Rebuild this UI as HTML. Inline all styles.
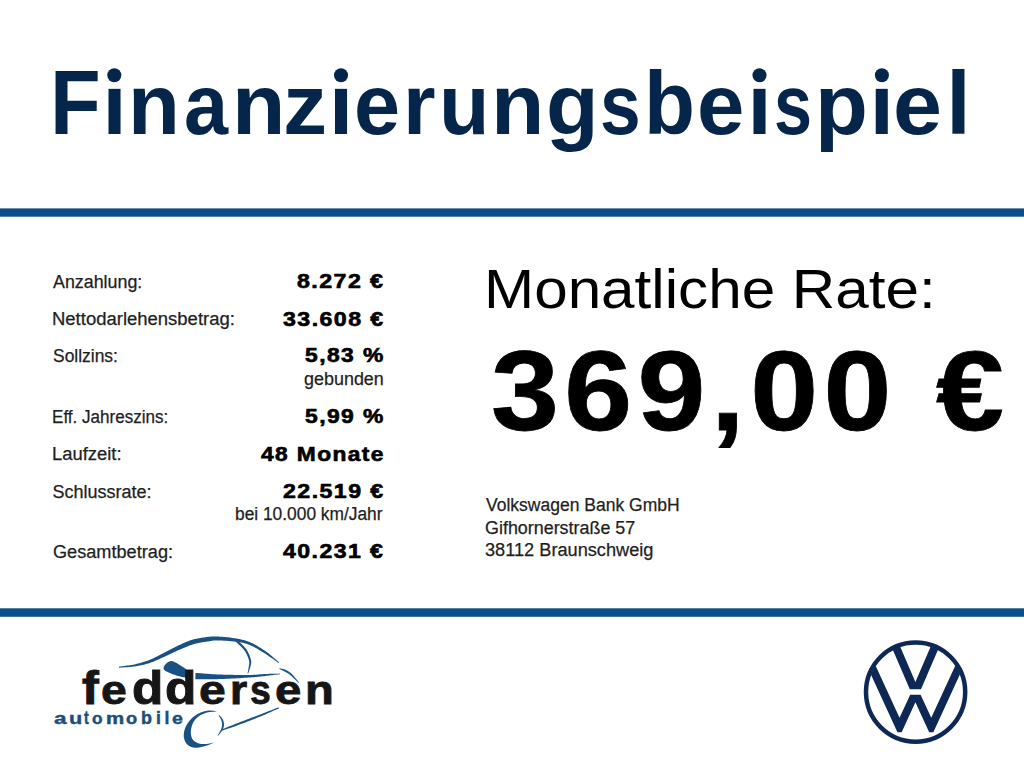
<!DOCTYPE html>
<html><head><meta charset="utf-8"><style>
html,body{margin:0;padding:0;background:#fff;width:1024px;height:768px;overflow:hidden;position:relative}
.t{position:absolute;white-space:nowrap;font-family:"Liberation Sans",sans-serif}
svg{position:absolute;left:0;top:0}
</style></head><body>
<svg width="1024" height="768" viewBox="0 0 1024 768">
<defs><clipPath id="vwc"><circle cx="915.6" cy="692.1" r="48"/></clipPath></defs>
<rect x="0" y="208.4" width="1024" height="8.3" fill="#0b4f88"/>
<rect x="0" y="608.3" width="1024" height="8.5" fill="#0b4f88"/>
<circle cx="915.6" cy="692.1" r="49.6" fill="none" stroke="#0d2855" stroke-width="4.5"/>
<g clip-path="url(#vwc)" fill="#0d2855">
<polygon points="871.40,600.00 909.80,689.30 921.00,689.30 959.40,600.00 950.70,600.00 915.40,682.09 880.10,600.00"/>
<polygon points="836.64,600.00 897.45,732.20 901.65,732.20 915.40,702.31 929.15,732.20 933.35,732.20 994.16,600.00 985.46,600.00 931.25,717.85 920.60,694.70 910.20,694.70 899.55,717.85 845.34,600.00"/>
</g>
<g fill="#1a5184"><path d="M119.05,667.70 L119.80,667.64 L120.75,667.58 L121.86,667.51 L123.11,667.43 L124.46,667.35 L125.90,667.25 L127.40,667.14 L128.91,667.02 L130.43,666.89 L131.91,666.74 L133.34,666.57 L134.68,666.38 L135.95,666.19 L137.21,665.98 L138.47,665.76 L139.72,665.53 L140.97,665.28 L142.22,665.02 L143.46,664.74 L144.70,664.44 L145.95,664.12 L147.20,663.78 L148.45,663.41 L149.70,663.01 L150.97,662.58 L152.23,662.12 L153.48,661.63 L154.73,661.12 L155.98,660.59 L157.22,660.04 L158.46,659.48 L159.69,658.92 L160.92,658.35 L162.14,657.78 L163.37,657.22 L164.60,656.67 L165.84,656.11 L167.09,655.53 L168.33,654.94 L169.58,654.34 L170.82,653.75 L172.06,653.15 L173.29,652.56 L174.52,651.97 L175.74,651.40 L176.96,650.83 L178.17,650.29 L179.39,649.76 L180.61,649.23 L181.84,648.70 L183.06,648.18 L184.27,647.66 L185.48,647.16 L186.68,646.67 L187.88,646.19 L189.07,645.73 L190.25,645.30 L191.43,644.89 L192.60,644.51 L193.76,644.16 L194.94,643.83 L196.15,643.53 L197.40,643.25 L198.66,642.99 L199.93,642.75 L201.20,642.52 L202.45,642.31 L203.68,642.11 L204.87,641.93 L206.01,641.75 L207.10,641.59 L208.12,641.43 L209.04,641.28 L209.84,641.14 L210.54,641.02 L211.17,640.91 L211.74,640.82 L212.29,640.74 L212.83,640.67 L213.40,640.62 L214.03,640.57 L214.73,640.54 L215.54,640.51 L216.47,640.50 L217.51,640.50 L218.65,640.51 L219.85,640.52 L221.11,640.55 L222.42,640.59 L223.77,640.65 L225.14,640.71 L226.53,640.80 L227.91,640.89 L229.29,641.01 L230.64,641.14 L231.97,641.28 L233.30,641.44 L234.63,641.60 L235.96,641.76 L237.29,641.93 L238.62,642.11 L239.95,642.31 L241.27,642.54 L242.59,642.80 L243.90,643.10 L245.21,643.44 L246.52,643.82 L247.82,644.26 L249.13,644.76 L250.46,645.33 L251.80,645.94 L253.14,646.61 L254.48,647.31 L255.83,648.04 L257.18,648.81 L258.52,649.59 L259.85,650.38 L261.17,651.18 L262.48,651.98 L263.77,652.76 L265.08,653.58 L266.46,654.47 L267.87,655.41 L269.30,656.39 L270.73,657.39 L272.12,658.37 L273.46,659.33 L274.73,660.24 L275.89,661.07 L276.92,661.82 L277.81,662.46 L278.53,662.96 L279.07,662.24 L278.41,661.69 L277.58,660.98 L276.62,660.15 L275.53,659.22 L274.35,658.20 L273.09,657.13 L271.77,656.02 L270.42,654.91 L269.04,653.81 L267.67,652.75 L266.33,651.75 L265.03,650.84 L263.75,649.98 L262.46,649.13 L261.14,648.28 L259.80,647.45 L258.45,646.63 L257.08,645.83 L255.71,645.06 L254.32,644.31 L252.93,643.60 L251.55,642.94 L250.16,642.31 L248.78,641.74 L247.40,641.22 L246.01,640.75 L244.63,640.34 L243.25,639.96 L241.88,639.63 L240.50,639.33 L239.14,639.05 L237.78,638.80 L236.43,638.57 L235.09,638.34 L233.76,638.13 L232.43,637.92 L231.07,637.71 L229.67,637.52 L228.25,637.35 L226.83,637.20 L225.41,637.06 L224.00,636.94 L222.63,636.84 L221.29,636.74 L220.00,636.67 L218.77,636.60 L217.61,636.54 L216.53,636.50 L215.56,636.47 L214.70,636.44 L213.92,636.43 L213.20,636.44 L212.53,636.45 L211.89,636.48 L211.25,636.53 L210.60,636.59 L209.92,636.66 L209.19,636.75 L208.39,636.86 L207.48,636.97 L206.47,637.10 L205.38,637.24 L204.22,637.39 L203.00,637.55 L201.74,637.73 L200.44,637.93 L199.11,638.15 L197.77,638.39 L196.42,638.65 L195.08,638.95 L193.74,639.28 L192.44,639.64 L191.16,640.04 L189.90,640.48 L188.64,640.94 L187.39,641.43 L186.15,641.94 L184.92,642.47 L183.69,643.02 L182.47,643.57 L181.25,644.14 L180.04,644.70 L178.83,645.27 L177.61,645.84 L176.38,646.42 L175.15,647.03 L173.92,647.65 L172.69,648.28 L171.47,648.92 L170.24,649.56 L169.03,650.21 L167.82,650.85 L166.61,651.48 L165.40,652.11 L164.21,652.73 L163.00,653.33 L161.79,653.94 L160.58,654.55 L159.37,655.17 L158.17,655.78 L156.97,656.39 L155.78,656.99 L154.59,657.57 L153.41,658.14 L152.23,658.69 L151.05,659.22 L149.87,659.72 L148.70,660.19 L147.51,660.63 L146.33,661.06 L145.15,661.47 L143.97,661.85 L142.79,662.23 L141.60,662.58 L140.40,662.92 L139.20,663.24 L138.00,663.55 L136.78,663.85 L135.55,664.14 L134.32,664.42 L133.04,664.68 L131.66,664.93 L130.21,665.18 L128.72,665.41 L127.23,665.62 L125.76,665.82 L124.34,666.01 L122.99,666.18 L121.75,666.34 L120.64,666.48 L119.70,666.60 L118.95,666.70Z"/><path d="M234.24,640.30 L234.75,640.79 L235.42,641.40 L236.20,642.10 L237.07,642.89 L238.01,643.74 L238.99,644.64 L239.98,645.58 L240.96,646.53 L241.91,647.48 L242.78,648.42 L243.56,649.31 L244.21,650.15 L244.79,650.98 L245.35,651.85 L245.87,652.74 L246.36,653.65 L246.82,654.56 L247.24,655.48 L247.63,656.38 L247.98,657.26 L248.30,658.12 L248.58,658.94 L248.82,659.72 L249.03,660.44 L249.18,661.08 L249.27,661.66 L249.32,662.21 L249.33,662.73 L249.30,663.23 L249.25,663.72 L249.17,664.21 L249.08,664.70 L248.99,665.21 L248.88,665.74 L248.79,666.29 L248.71,666.85 L248.64,667.42 L248.56,668.02 L248.45,668.64 L248.34,669.27 L248.22,669.90 L248.10,670.53 L247.98,671.13 L247.86,671.70 L247.75,672.23 L247.66,672.70 L247.57,673.10 L247.51,673.42 L248.09,673.58 L248.20,673.28 L248.34,672.90 L248.51,672.45 L248.71,671.95 L248.92,671.40 L249.14,670.82 L249.36,670.21 L249.58,669.59 L249.78,668.96 L249.98,668.34 L250.15,667.72 L250.29,667.15 L250.41,666.62 L250.55,666.12 L250.69,665.61 L250.83,665.10 L250.96,664.56 L251.08,664.01 L251.17,663.42 L251.23,662.81 L251.25,662.15 L251.21,661.46 L251.12,660.73 L250.97,659.96 L250.77,659.17 L250.53,658.33 L250.25,657.45 L249.94,656.53 L249.58,655.59 L249.19,654.62 L248.75,653.65 L248.28,652.67 L247.77,651.69 L247.21,650.72 L246.62,649.78 L245.99,648.85 L245.26,647.91 L244.42,646.94 L243.50,645.95 L242.52,644.96 L241.51,643.98 L240.50,643.02 L239.50,642.11 L238.55,641.25 L237.67,640.46 L236.90,639.76 L236.25,639.18 L235.76,638.70Z"/><path d="M195.29,679.30 L196.43,679.29 L197.82,679.29 L199.45,679.29 L201.28,679.29 L203.28,679.29 L205.42,679.29 L207.66,679.28 L209.97,679.27 L212.32,679.25 L214.68,679.21 L217.01,679.16 L219.29,679.10 L221.60,679.02 L224.03,678.93 L226.56,678.82 L229.17,678.70 L231.81,678.57 L234.45,678.44 L237.07,678.30 L239.63,678.16 L242.10,678.01 L244.44,677.87 L246.64,677.73 L248.65,677.60 L250.48,677.47 L252.17,677.34 L253.72,677.21 L255.17,677.08 L256.52,676.95 L257.80,676.81 L259.03,676.68 L260.22,676.55 L261.41,676.41 L262.60,676.27 L263.81,676.14 L265.08,676.00 L266.42,675.85 L267.82,675.69 L269.26,675.52 L270.72,675.35 L272.16,675.17 L273.57,675.00 L274.92,674.83 L276.20,674.67 L277.37,674.53 L278.41,674.40 L279.30,674.29 L280.02,674.20 L279.98,673.60 L279.26,673.62 L278.36,673.64 L277.31,673.66 L276.13,673.68 L274.84,673.71 L273.48,673.74 L272.06,673.77 L270.60,673.81 L269.14,673.85 L267.69,673.90 L266.28,673.95 L264.92,674.00 L263.63,674.07 L262.40,674.15 L261.19,674.25 L260.00,674.35 L258.81,674.46 L257.59,674.56 L256.32,674.66 L254.98,674.76 L253.56,674.84 L252.02,674.92 L250.36,674.97 L248.55,675.00 L246.55,675.02 L244.36,675.02 L242.02,675.01 L239.55,674.99 L237.00,674.95 L234.39,674.91 L231.75,674.86 L229.12,674.80 L226.53,674.74 L224.01,674.66 L221.59,674.58 L219.31,674.50 L217.07,674.40 L214.77,674.28 L212.45,674.14 L210.13,673.99 L207.84,673.83 L205.62,673.67 L203.50,673.51 L201.51,673.36 L199.69,673.22 L198.06,673.09 L196.65,672.98 L195.51,672.90Z"/><path d="M279.37,668.98 L279.63,669.09 L279.95,669.23 L280.33,669.39 L280.74,669.57 L281.19,669.77 L281.67,669.97 L282.17,670.19 L282.67,670.42 L283.17,670.66 L283.66,670.91 L284.14,671.15 L284.60,671.41 L285.05,671.66 L285.51,671.92 L285.97,672.18 L286.43,672.44 L286.88,672.71 L287.35,672.99 L287.82,673.29 L288.30,673.61 L288.80,673.95 L289.31,674.33 L289.85,674.73 L290.41,675.18 L291.02,675.69 L291.71,676.29 L292.45,676.97 L293.24,677.69 L294.04,678.44 L294.84,679.20 L295.62,679.95 L296.36,680.67 L297.05,681.33 L297.66,681.92 L298.18,682.42 L298.58,682.81 L299.02,682.39 L298.66,681.97 L298.20,681.42 L297.67,680.76 L297.06,680.02 L296.41,679.22 L295.71,678.38 L295.00,677.53 L294.28,676.69 L293.56,675.87 L292.87,675.11 L292.20,674.42 L291.59,673.82 L291.02,673.31 L290.47,672.84 L289.93,672.42 L289.40,672.03 L288.88,671.67 L288.37,671.35 L287.86,671.05 L287.37,670.77 L286.87,670.51 L286.39,670.26 L285.90,670.03 L285.40,669.79 L284.87,669.57 L284.32,669.36 L283.75,669.18 L283.18,669.01 L282.62,668.87 L282.08,668.74 L281.56,668.63 L281.07,668.52 L280.63,668.44 L280.23,668.36 L279.90,668.29 L279.63,668.22Z"/><path d="M221.67,730.67 L222.30,730.47 L223.03,730.24 L223.86,729.97 L224.80,729.68 L225.83,729.36 L226.95,729.00 L228.15,728.61 L229.44,728.19 L230.81,727.73 L232.26,727.24 L233.77,726.71 L235.35,726.14 L237.06,725.51 L238.94,724.81 L240.96,724.06 L243.09,723.26 L245.29,722.43 L247.55,721.57 L249.82,720.70 L252.08,719.82 L254.29,718.96 L256.43,718.11 L258.47,717.30 L260.37,716.53 L262.21,715.77 L264.06,714.98 L265.92,714.17 L267.75,713.36 L269.53,712.57 L271.25,711.79 L272.88,711.05 L274.41,710.35 L275.80,709.71 L277.04,709.14 L278.11,708.66 L278.99,708.26 L278.61,707.34 L277.71,707.69 L276.61,708.11 L275.33,708.61 L273.90,709.16 L272.34,709.76 L270.67,710.41 L268.92,711.09 L267.10,711.79 L265.23,712.51 L263.35,713.24 L261.48,713.96 L259.63,714.67 L257.72,715.40 L255.68,716.19 L253.54,717.01 L251.32,717.85 L249.06,718.71 L246.79,719.58 L244.54,720.44 L242.34,721.29 L240.22,722.10 L238.21,722.88 L236.34,723.60 L234.65,724.26 L233.09,724.88 L231.60,725.48 L230.19,726.05 L228.85,726.59 L227.60,727.11 L226.43,727.60 L225.35,728.05 L224.35,728.47 L223.45,728.84 L222.64,729.18 L221.93,729.48 L221.33,729.73Z"/><path d="M218.67,715.52 L218.83,715.81 L219.05,716.18 L219.31,716.59 L219.60,717.06 L219.90,717.56 L220.22,718.08 L220.53,718.63 L220.82,719.18 L221.09,719.74 L221.32,720.27 L221.50,720.78 L221.64,721.25 L221.74,721.75 L221.84,722.26 L221.91,722.79 L221.97,723.32 L222.01,723.86 L222.03,724.40 L222.03,724.95 L222.00,725.50 L221.95,726.06 L221.88,726.61 L221.77,727.17 L221.64,727.72 L221.47,728.30 L221.22,728.94 L220.90,729.64 L220.55,730.37 L220.16,731.11 L219.75,731.86 L219.34,732.58 L218.94,733.27 L218.57,733.90 L218.23,734.47 L217.96,734.95 L217.75,735.34 L218.25,735.66 L218.51,735.32 L218.85,734.89 L219.26,734.38 L219.73,733.81 L220.23,733.18 L220.75,732.52 L221.28,731.82 L221.79,731.11 L222.27,730.39 L222.70,729.67 L223.07,728.96 L223.36,728.28 L223.56,727.62 L223.72,726.96 L223.84,726.31 L223.92,725.66 L223.96,725.01 L223.97,724.37 L223.94,723.74 L223.88,723.12 L223.79,722.50 L223.67,721.91 L223.53,721.33 L223.36,720.75 L223.14,720.15 L222.84,719.55 L222.49,718.96 L222.10,718.40 L221.70,717.86 L221.28,717.34 L220.87,716.85 L220.48,716.40 L220.11,715.99 L219.79,715.63 L219.53,715.33 L219.33,715.08Z"/><path d="M163.5,668.2 C163.8,665.5 168,661 171.6,661.1 C175,661.5 180,665.5 186,669 L186,677.8 C181,677 173,675 167.7,672.1 C165,670.8 163.4,669.6 163.5,668.2Z"/><path d="M217,711.5 C203,707 186,718 183.8,733.6 C182.8,743 190,749.5 199,747.5 C205,746.5 211,744.5 215,742 C207,745 198,745 193.5,740.5 C189.8,736.5 190,728 193.8,721.5 C198.5,714.5 206,711.5 217,711.5Z"/></g>
<g fill="#06254a" id="idots"><circle cx="114.3" cy="75.3" r="7"/><circle cx="341" cy="75.3" r="7"/><circle cx="759.5" cy="75.3" r="7"/><circle cx="881.9" cy="75.3" r="7"/></g>
</svg>
<div class=t style="left:50.36px;top:60.2px;font-size:88px;line-height:88px;font-weight:700;color:#06254a;transform:scale(0.9434,1.04);transform-origin:0 74.80px;">F</div>
<div class=t style="left:102.2px;top:60.2px;font-size:88px;line-height:88px;font-weight:700;color:#06254a;transform:scale(1.0,0.96);transform-origin:0 74.80px;">ı</div>
<div class=t style="left:127.65px;top:60.2px;font-size:88px;line-height:88px;font-weight:700;color:#06254a;transform:scale(0.9647,0.96);transform-origin:0 74.80px;">n</div>
<div class=t style="left:183.54px;top:60.2px;font-size:88px;line-height:88px;font-weight:700;color:#06254a;transform:scale(0.9003,0.96);transform-origin:0 74.80px;">a</div>
<div class=t style="left:231.79px;top:60.2px;font-size:88px;line-height:88px;font-weight:700;color:#06254a;transform:scale(0.9929,0.96);transform-origin:0 74.80px;">n</div>
<div class=t style="left:283.49px;top:60.2px;font-size:88px;line-height:88px;font-weight:700;color:#06254a;transform:scale(1.0033,0.96);transform-origin:0 74.80px;">z</div>
<div class=t style="left:328.7px;top:60.2px;font-size:88px;line-height:88px;font-weight:700;color:#06254a;transform:scale(1.0,0.96);transform-origin:0 74.80px;">ı</div>
<div class=t style="left:354.0px;top:60.2px;font-size:88px;line-height:88px;font-weight:700;color:#06254a;transform:scale(0.9416,0.96);transform-origin:0 74.80px;">e</div>
<div class=t style="left:403.43px;top:60.2px;font-size:88px;line-height:88px;font-weight:700;color:#06254a;transform:scale(0.9512,0.96);transform-origin:0 74.80px;">r</div>
<div class=t style="left:438.84px;top:60.2px;font-size:88px;line-height:88px;font-weight:700;color:#06254a;transform:scale(0.9388,0.96);transform-origin:0 74.80px;">u</div>
<div class=t style="left:491.29px;top:60.2px;font-size:88px;line-height:88px;font-weight:700;color:#06254a;transform:scale(0.9929,0.96);transform-origin:0 74.80px;">n</div>
<div class=t style="left:546.25px;top:60.2px;font-size:88px;line-height:88px;font-weight:700;color:#06254a;transform:scale(0.9785,0.96);transform-origin:0 74.80px;">g</div>
<div class=t style="left:599.9px;top:60.2px;font-size:88px;line-height:88px;font-weight:700;color:#06254a;transform:scale(0.8308,0.96);transform-origin:0 74.80px;">s</div>
<div class=t style="left:643.94px;top:60.2px;font-size:88px;line-height:88px;font-weight:700;color:#06254a;transform:scale(0.9487,1.015);transform-origin:0 74.80px;">b</div>
<div class=t style="left:696.61px;top:60.2px;font-size:88px;line-height:88px;font-weight:700;color:#06254a;transform:scale(0.9676,0.96);transform-origin:0 74.80px;">e</div>
<div class=t style="left:747.25px;top:60.2px;font-size:88px;line-height:88px;font-weight:700;color:#06254a;transform:scale(1.0,0.96);transform-origin:0 74.80px;">ı</div>
<div class=t style="left:774.17px;top:60.2px;font-size:88px;line-height:88px;font-weight:700;color:#06254a;transform:scale(0.7763,0.96);transform-origin:0 74.80px;">s</div>
<div class=t style="left:814.64px;top:60.2px;font-size:88px;line-height:88px;font-weight:700;color:#06254a;transform:scale(0.9848,0.96);transform-origin:0 74.80px;">p</div>
<div class=t style="left:869.6px;top:60.2px;font-size:88px;line-height:88px;font-weight:700;color:#06254a;transform:scale(1.0,0.96);transform-origin:0 74.80px;">ı</div>
<div class=t style="left:893.4px;top:60.2px;font-size:88px;line-height:88px;font-weight:700;color:#06254a;transform:scale(1.0006,0.96);transform-origin:0 74.80px;">e</div>
<div class=t style="left:946.21px;top:60.2px;font-size:88px;line-height:88px;font-weight:700;color:#06254a;transform:scale(1.0,1.015);transform-origin:0 74.80px;">l</div>
<div class=t style="left:53.3px;top:272.7px;font-size:18px;line-height:18px;font-weight:400;color:#1e1e1e;-webkit-text-stroke:0.25px #1e1e1e;transform:scale(0.991,1);transform-origin:0 15.30px;">Anzahlung:</div>
<div class=t style="left:52.27px;top:310.2px;font-size:18px;line-height:18px;font-weight:400;color:#1e1e1e;-webkit-text-stroke:0.25px #1e1e1e;transform:scale(1.0267,1);transform-origin:0 15.30px;">Nettodarlehensbetrag:</div>
<div class=t style="left:52.57px;top:346.7px;font-size:18px;line-height:18px;font-weight:400;color:#1e1e1e;-webkit-text-stroke:0.25px #1e1e1e;transform:scale(0.9683,1);transform-origin:0 15.30px;">Sollzins:</div>
<div class=t style="left:52.12px;top:407.7px;font-size:18px;line-height:18px;font-weight:400;color:#1e1e1e;-webkit-text-stroke:0.25px #1e1e1e;transform:scale(0.9475,1);transform-origin:0 15.30px;">Eff. Jahreszins:</div>
<div class=t style="left:52.02px;top:444.7px;font-size:18px;line-height:18px;font-weight:400;color:#1e1e1e;-webkit-text-stroke:0.25px #1e1e1e;transform:scale(1.0222,1);transform-origin:0 15.30px;">Laufzeit:</div>
<div class=t style="left:52.55px;top:482.7px;font-size:18px;line-height:18px;font-weight:400;color:#1e1e1e;-webkit-text-stroke:0.25px #1e1e1e;">Schlussrate:</div>
<div class=t style="left:52.54px;top:542.7px;font-size:18px;line-height:18px;font-weight:400;color:#1e1e1e;-webkit-text-stroke:0.25px #1e1e1e;transform:scale(1.0081,1);transform-origin:0 15.30px;">Gesamtbetrag:</div>
<div class=t style="left:297.05px;top:271.89px;font-size:19.3px;line-height:19.3px;font-weight:700;color:#000;letter-spacing:1.2px;-webkit-text-stroke:0.6px #000;transform:scale(1.2021,1);transform-origin:0 16.41px;">8.272 €</div>
<div class=t style="left:282.7px;top:309.6px;font-size:19.3px;line-height:19.3px;font-weight:700;color:#000;letter-spacing:1.2px;-webkit-text-stroke:0.6px #000;transform:scale(1.2012,1);transform-origin:0 16.41px;">33.608 €</div>
<div class=t style="left:305.2px;top:346.39px;font-size:19.3px;line-height:19.3px;font-weight:700;color:#000;letter-spacing:1.2px;-webkit-text-stroke:0.6px #000;transform:scale(1.1855,1);transform-origin:0 16.41px;">5,83 %</div>
<div class=t style="left:303.58px;top:369.7px;font-size:18px;line-height:18px;font-weight:400;color:#1e1e1e;-webkit-text-stroke:0.25px #1e1e1e;transform:scale(0.9965,1);transform-origin:0 15.30px;">gebunden</div>
<div class=t style="left:304.9px;top:406.79px;font-size:19.3px;line-height:19.3px;font-weight:700;color:#000;letter-spacing:1.2px;-webkit-text-stroke:0.6px #000;transform:scale(1.1855,1);transform-origin:0 16.41px;">5,99 %</div>
<div class=t style="left:261.0px;top:444.6px;font-size:19.3px;line-height:19.3px;font-weight:700;color:#000;letter-spacing:1.2px;-webkit-text-stroke:0.6px #000;transform:scale(1.1787,1);transform-origin:0 16.41px;">48 Monate</div>
<div class=t style="left:282.7px;top:482.1px;font-size:19.3px;line-height:19.3px;font-weight:700;color:#000;letter-spacing:1.2px;-webkit-text-stroke:0.6px #000;transform:scale(1.2012,1);transform-origin:0 16.41px;">22.519 €</div>
<div class=t style="left:234.54px;top:504.7px;font-size:18px;line-height:18px;font-weight:400;color:#1e1e1e;-webkit-text-stroke:0.25px #1e1e1e;transform:scale(0.9638,1);transform-origin:0 15.30px;">bei 10.000 km/Jahr</div>
<div class=t style="left:283.0px;top:541.89px;font-size:19.3px;line-height:19.3px;font-weight:700;color:#000;letter-spacing:1.2px;-webkit-text-stroke:0.6px #000;transform:scale(1.1976,1);transform-origin:0 16.41px;">40.231 €</div>
<div class=t style="left:483.58px;top:261.93px;font-size:55.5px;line-height:55.5px;font-weight:400;color:#000;transform:scale(1.0847,1);transform-origin:0 47.17px;">Monatliche Rate:</div>
<div class=t style="left:490.56px;top:333.7px;font-size:114px;line-height:114px;font-weight:700;color:#000;letter-spacing:5px;-webkit-text-stroke:0.8px #000;transform:scale(1.0714,1);transform-origin:0 96.90px;">369,00 €</div>
<div class=t style="left:485.7px;top:496.02px;font-size:18.8px;line-height:18.8px;font-weight:400;color:#1e1e1e;-webkit-text-stroke:0.25px #1e1e1e;transform:scale(0.9319,1);transform-origin:0 15.98px;">Volkswagen Bank GmbH</div>
<div class=t style="left:484.75px;top:518.52px;font-size:18.8px;line-height:18.8px;font-weight:400;color:#1e1e1e;-webkit-text-stroke:0.25px #1e1e1e;transform:scale(0.9532,1);transform-origin:0 15.98px;">Gifhornerstraße 57</div>
<div class=t style="left:484.73px;top:541.02px;font-size:18.8px;line-height:18.8px;font-weight:400;color:#1e1e1e;-webkit-text-stroke:0.25px #1e1e1e;transform:scale(0.968,1);transform-origin:0 15.98px;">38112 Braunschweig</div>
<div class=t style="left:81.71px;top:667.75px;font-size:43px;line-height:43px;font-weight:700;color:#161616;-webkit-text-stroke:0.9px #161616;transform:scale(1.1692,1.06);transform-origin:0 36.55px;">f</div>
<div class=t style="left:101.25px;top:667.75px;font-size:43px;line-height:43px;font-weight:700;color:#161616;-webkit-text-stroke:0.9px #161616;transform:scale(1.0775,0.93);transform-origin:0 36.55px;">e</div>
<div class=t style="left:131.76px;top:667.75px;font-size:43px;line-height:43px;font-weight:700;color:#161616;-webkit-text-stroke:0.9px #161616;transform:scale(1.1911,1.06);transform-origin:0 36.55px;">d</div>
<div class=t style="left:164.96px;top:667.75px;font-size:43px;line-height:43px;font-weight:700;color:#161616;-webkit-text-stroke:0.9px #161616;transform:scale(1.1956,1.06);transform-origin:0 36.55px;">d</div>
<div class=t style="left:199.0px;top:667.75px;font-size:43px;line-height:43px;font-weight:700;color:#161616;-webkit-text-stroke:0.9px #161616;transform:scale(1.1191,0.93);transform-origin:0 36.55px;">e</div>
<div class=t style="left:229.66px;top:667.75px;font-size:43px;line-height:43px;font-weight:700;color:#161616;-webkit-text-stroke:0.9px #161616;transform:scale(1.0265,0.93);transform-origin:0 36.55px;">r</div>
<div class=t style="left:250.33px;top:667.75px;font-size:43px;line-height:43px;font-weight:700;color:#161616;-webkit-text-stroke:0.9px #161616;transform:scale(0.8694,0.93);transform-origin:0 36.55px;">s</div>
<div class=t style="left:275.22px;top:667.75px;font-size:43px;line-height:43px;font-weight:700;color:#161616;-webkit-text-stroke:0.9px #161616;transform:scale(1.1006,0.93);transform-origin:0 36.55px;">e</div>
<div class=t style="left:304.8px;top:667.75px;font-size:43px;line-height:43px;font-weight:700;color:#161616;-webkit-text-stroke:0.9px #161616;transform:scale(1.096,0.93);transform-origin:0 36.55px;">n</div>
<div class=t style="left:54.08px;top:709.83px;font-size:17.5px;line-height:17.5px;font-weight:700;color:#1c4e7a;-webkit-text-stroke:0.45px #1c4e7a;transform:scale(1.2861,0.9);transform-origin:0 14.88px;">a</div>
<div class=t style="left:68.72px;top:709.83px;font-size:17.5px;line-height:17.5px;font-weight:700;color:#1c4e7a;-webkit-text-stroke:0.45px #1c4e7a;transform:scale(1.2394,0.9);transform-origin:0 14.88px;">u</div>
<div class=t style="left:83.5px;top:709.83px;font-size:17.5px;line-height:17.5px;font-weight:700;color:#1c4e7a;-webkit-text-stroke:0.45px #1c4e7a;transform:scale(0.817,1.0);transform-origin:0 14.88px;">t</div>
<div class=t style="left:91.91px;top:709.83px;font-size:17.5px;line-height:17.5px;font-weight:700;color:#1c4e7a;-webkit-text-stroke:0.45px #1c4e7a;transform:scale(0.9846,0.9);transform-origin:0 14.88px;">o</div>
<div class=t style="left:105.68px;top:709.83px;font-size:17.5px;line-height:17.5px;font-weight:700;color:#1c4e7a;-webkit-text-stroke:0.45px #1c4e7a;transform:scale(1.1676,0.9);transform-origin:0 14.88px;">m</div>
<div class=t style="left:126.48px;top:709.83px;font-size:17.5px;line-height:17.5px;font-weight:700;color:#1c4e7a;-webkit-text-stroke:0.45px #1c4e7a;transform:scale(1.0462,0.9);transform-origin:0 14.88px;">o</div>
<div class=t style="left:141.4px;top:709.83px;font-size:17.5px;line-height:17.5px;font-weight:700;color:#1c4e7a;-webkit-text-stroke:0.45px #1c4e7a;transform:scale(1.024,1.0);transform-origin:0 14.88px;">b</div>
<div class=t style="left:156.11px;top:709.83px;font-size:17.5px;line-height:17.5px;font-weight:700;color:#1c4e7a;-webkit-text-stroke:0.45px #1c4e7a;">i</div>
<div class=t style="left:164.51px;top:709.83px;font-size:17.5px;line-height:17.5px;font-weight:700;color:#1c4e7a;-webkit-text-stroke:0.45px #1c4e7a;">l</div>
<div class=t style="left:171.84px;top:709.83px;font-size:17.5px;line-height:17.5px;font-weight:700;color:#1c4e7a;-webkit-text-stroke:0.45px #1c4e7a;transform:scale(1.1155,0.9);transform-origin:0 14.88px;">e</div>
</body></html>
